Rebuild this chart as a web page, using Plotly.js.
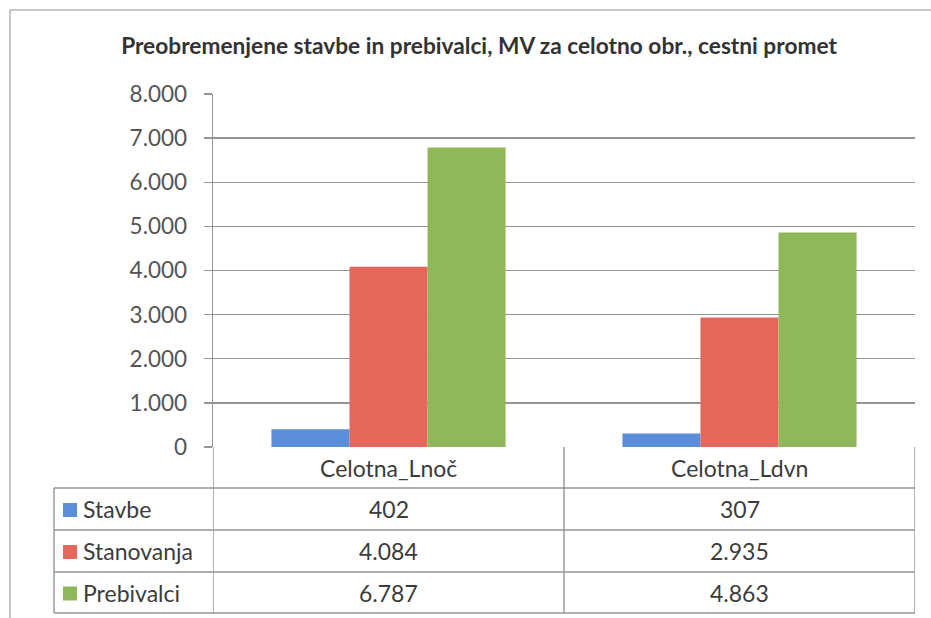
<!DOCTYPE html>
<html>
<head>
<meta charset="utf-8">
<script src="https://cdn.plot.ly/plotly-3.0.1.min.js"></script>
<style>html,body{margin:0;padding:0;background:#fff;}#chart{width:931px;height:618px;}</style>
</head>
<body>
<div id="chart"></div>
<script>
// ---- data ----
const categories = ['Celotna_Lnoč', 'Celotna_Ldvn'];
const seriesNames = ['Stavbe', 'Stanovanja', 'Prebivalci'];
const stavbe = [402, 307];
const stanovanja = [4084, 2935];
const prebivalci = [6787, 4863];
const yTickVals = [0, 1000, 2000, 3000, 4000, 5000, 6000, 7000, 8000];
const chartTitle = 'Preobremenjene stavbe in prebivalci, MV za celotno obr., cestni promet';

// ---- styles ----
const colors = ['#5b8ed8', '#e5675b', '#8fb85a'];
const seriesValues = [stavbe, stanovanja, prebivalci];
const W = 931, H = 618;
const L = 213, R = 16, T = 94, B = 171;
const PW = W - L - R, PH = H - T - B;
const px2x = X => (X - L) / PW;
const px2y = Y => (H - B - Y) / PH;
const lineCol = '#949494';
const textCol = '#3c3c3c';
const FONT = 'Lato, "Open Sans", sans-serif';
const tableFontSize = 23;

function fmt(n) {
  return String(n).replace(/\B(?=(\d{3})+(?!\d))/g, '.');
}

const traces = seriesNames.map((name, i) => ({
  type: 'bar',
  name: name,
  x: categories,
  y: seriesValues[i],
  marker: {color: colors[i], line: {width: 0}},
  hoverinfo: 'x+y+name'
}));

// table geometry (pixels)
const tableLeft = 54, tableRight = W - R;
const rowLines = [488, 530, 572, 613];   // bottom edges of header / rows
const zeroY = H - B;

const shapes = [];
// horizontal table lines
rowLines.forEach(Y => shapes.push({type: 'line', xref: 'paper', yref: 'paper',
  x0: px2x(tableLeft), x1: px2x(tableRight), y0: px2y(Y), y1: px2y(Y),
  line: {color: lineCol, width: 1.4}}));
// vertical lines
shapes.push({type: 'line', xref: 'paper', yref: 'paper', x0: px2x(tableLeft), x1: px2x(tableLeft),
  y0: px2y(rowLines[0]), y1: px2y(rowLines[3]), line: {color: lineCol, width: 1.4}});
[-0.5, 0.5, 1.5].forEach(xv => shapes.push({type: 'line', xref: 'x', yref: 'paper', x0: xv, x1: xv,
  y0: 0, y1: px2y(rowLines[3]), line: {color: lineCol, width: 1.4}}));
// legend keys
seriesNames.forEach((n, i) => {
  const top = rowLines[i], bot = rowLines[i + 1];
  const cy = (top + bot) / 2;
  shapes.push({type: 'rect', xref: 'paper', yref: 'paper',
    x0: px2x(63), x1: px2x(77), y0: px2y(cy - 6), y1: px2y(cy + 8),
    fillcolor: colors[i], line: {width: 0}});
});
// outer chart border (left and top visible)
shapes.push({type: 'line', xref: 'paper', yref: 'paper', x0: px2x(10), x1: px2x(10), y0: px2y(10), y1: px2y(640),
  line: {color: '#b5b5b5', width: 1.5}});
shapes.push({type: 'line', xref: 'paper', yref: 'paper', x0: px2x(10), x1: px2x(940), y0: px2y(10), y1: px2y(10),
  line: {color: '#b5b5b5', width: 1.5}});

const annotations = [];
// header row
categories.forEach(c => annotations.push({xref: 'x', yref: 'paper', x: c, y: px2y((zeroY + rowLines[0]) / 2),
  text: c, showarrow: false, xanchor: 'center', yanchor: 'middle',
  font: {family: FONT, size: tableFontSize, color: textCol}}));
// rows
seriesNames.forEach((n, i) => {
  const cy = (rowLines[i] + rowLines[i + 1]) / 2;
  annotations.push({xref: 'paper', yref: 'paper', x: px2x(81), y: px2y(cy), text: n, showarrow: false,
    xanchor: 'left', yanchor: 'middle', font: {family: FONT, size: tableFontSize, color: textCol}});
  categories.forEach((c, j) => annotations.push({xref: 'x', yref: 'paper', x: c, y: px2y(cy),
    text: fmt(seriesValues[i][j]), showarrow: false, xanchor: 'center', yanchor: 'middle',
    font: {family: FONT, size: tableFontSize, color: textCol}}));
});

const layout = {
  width: W, height: H,
  margin: {l: L, r: R, t: T, b: B, pad: 0},
  paper_bgcolor: '#fff', plot_bgcolor: '#fff',
  separators: ',.',
  showlegend: false,
  barmode: 'group',
  bargap: 0.333,
  bargroupgap: 0,
  title: {text: '<b>' + chartTitle + '</b>', x: 479 / W, xanchor: 'center', y: 1 - 46 / H, yanchor: 'middle',
    font: {family: FONT, size: 22.7, color: '#333'}},
  xaxis: {type: 'category', range: [-0.5, 1.5], showticklabels: false, showgrid: false,
    zeroline: false, showline: false, ticks: ''},
  yaxis: {range: [0, 8000], tickvals: yTickVals, tickformat: ',d', showgrid: true, gridcolor: lineCol, gridwidth: 1.4,
    zeroline: false, showline: true, linecolor: lineCol, linewidth: 1.4, ticks: 'outside', ticklen: 8,
    tickcolor: lineCol, tickwidth: 1.4, ticklabelstandoff: 12,
    tickfont: {family: FONT, size: 22.5, color: '#555'}},
  shapes: shapes,
  annotations: annotations
};

Plotly.newPlot('chart', traces, layout, {displayModeBar: false, staticPlot: true});
</script>
</body>
</html>
